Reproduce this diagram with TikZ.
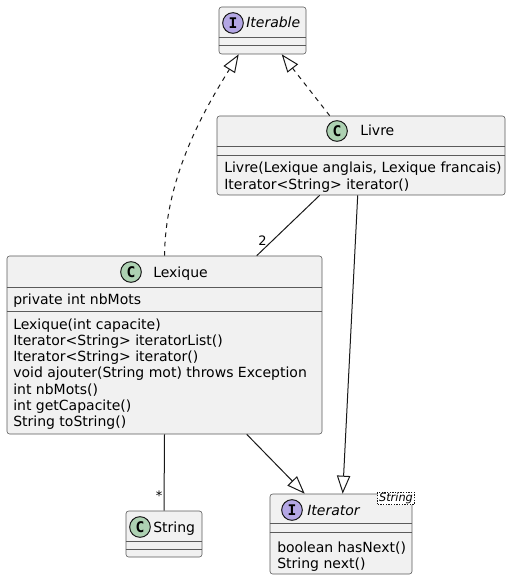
\documentclass[tikz,border=0pt]{standalone}
\usepackage{fontspec}
\setmainfont{DejaVu Sans}
\newfontfamily\iconfont{DejaVu Sans Mono}
\usepackage{tikz}
\usetikzlibrary{arrows.meta,calc,positioning}
\definecolor{umlfill}{HTML}{F1F1F1}
\definecolor{umlline}{HTML}{181818}
\definecolor{umlborder}{HTML}{5A5A5A}
\definecolor{classgreen}{HTML}{ADD1B2}
\definecolor{ifacepurple}{HTML}{B4A7E5}
\tikzset{
  umlclass/.style 2 args={draw=umlborder, fill=umlfill, line width=0.45pt, rounded corners=2pt,
    inner sep=0pt, minimum width=#1*0.75pt, minimum height=#2*0.75pt},
  divider/.style={draw=umlborder, line width=0.45pt},
  icon/.style={circle, draw=umlline, line width=0.75pt, minimum size=15.5pt, inner sep=0pt,
    font=\iconfont\bfseries\fontsize{11}{11}\selectfont},
  title/.style={anchor=base west, inner sep=0pt, font=\fontsize{10.5}{12}\selectfont},
  member/.style={anchor=base west, inner sep=0pt, font=\fontsize{10.5}{12}\selectfont},
  tmplbox/.style={draw=umlline, fill=white, line width=0.5pt, dash pattern=on 1pt off 1pt,
    inner xsep=1pt, inner ysep=0.5pt, font=\itshape\fontsize{8.5}{9}\selectfont},
  mult/.style={inner sep=0pt, font=\fontsize{9.75}{10}\selectfont},
  realize/.style={-{Triangle[open, length=13.5pt, width=10pt]}, draw=umlline, line width=0.75pt,
    dash pattern=on 3.5pt off 3.5pt},
  extend/.style={-{Triangle[open, length=13.5pt, width=10pt]}, draw=umlline, line width=0.75pt},
  assoc/.style={draw=umlline, line width=0.75pt}
}
% separation line inside a class box, #2 = offset from the top
\newcommand{\Divider}[2]{%
  \draw[divider] ($(#1.north west)+(0,#2)$) -- ($(#1.north east)+(0,#2)$);%
}

\begin{document}
\begin{tikzpicture}[x=0.75pt, y=-0.75pt]
  \useasboundingbox (0,0) rectangle (511,580);
  % class boxes
  \node[umlclass={87}{47}] (iterable) at (262.5,30.5) {};
  \node[umlclass={288}{79}] (livre) at (361,155.5) {};
  \node[umlclass={315}{178}] (lexique) at (164.5,345) {};
  \node[umlclass={76}{46}] (string) at (164,534) {};
  \node[umlclass={142}{80}] (iterator) at (341,534) {};
  \Divider{iterable}{31}\Divider{iterable}{39}
  \Divider{livre}{31}\Divider{livre}{40}
  \Divider{lexique}{32}\Divider{lexique}{56}
  \Divider{string}{31}\Divider{string}{39}
  \Divider{iterator}{30}\Divider{iterator}{39}
  % headers
  \node[icon, fill=ifacepurple] (iterableI) at (233,23) {I};
  \node[title, font=\itshape\fontsize{10.5}{12}\selectfont] (iterableT) at (246,28) {Iterable};
  \node[icon, fill=classgreen] (livreC) at (337,131) {C};
  \node[title] (livreT) at (360,136) {Livre};
  \node[icon, fill=classgreen] (lexiqueC) at (131,272) {C};
  \node[title] (lexiqueT) at (153,277) {Lexique};
  \node[icon, fill=classgreen] (stringC) at (140,527) {C};
  \node[title] (stringT) at (153,532) {String};
  \node[icon, fill=ifacepurple] (iteratorI) at (292,510) {I};
  \node[title, font=\itshape\fontsize{10.5}{12}\selectfont] (iteratorT) at (307,515) {Iterator};
  \node[tmplbox] (iteratorP) at (396,498.5) {String};
  % members
  \foreach \m [count=\i from 0] in {{Livre(Lexique anglais, Lexique francais)}, {Iterator<String> iterator()}}
    \node[member] (livreM\i) at (224,{173+16.3*\i}) {\m};
  \node[member] (lexiqueF0) at (13,304) {private int nbMots};
  \foreach \m [count=\i from 0] in {Lexique(int capacite), Iterator<String> iteratorList(),
      Iterator<String> iterator(), void ajouter(String mot) throws Exception,
      int nbMots(), int getCapacite(), String toString()}
    \node[member] (lexiqueM\i) at (13,{329+16.3*\i}) {\m};
  \foreach \m [count=\i from 0] in {boolean hasNext(), String next()}
    \node[member] (iteratorM\i) at (277,{552.5+16*\i}) {\m};
  % relations
  \draw[realize] (lexique.north) .. controls +(1,-80) and +(-34,55) .. ($(iterable.south west)+(20,0)$);
  \draw[realize] ($(livre.north west)+(113,0)$) -- ($(iterable.south west)+(63,0)$);
  \draw[assoc] ($(livre.south west)+(103,0)$) -- ($(lexique.north west)+(250,0)$)
    node[mult, pos=0.75, left=4pt] (nLivre) {2};
  \draw[extend] ($(livre.south west)+(141,0)$) -- ($(iterator.north west)+(73,0)$);
  \draw[extend] ($(lexique.south west)+(240,0)$) -- ($(iterator.north west)+(35,0)$);
  \draw[assoc] (lexique.south) -- (string.north)
    node[mult, pos=0.8, left=1pt] (nString) {*};
\end{tikzpicture}
\end{document}
